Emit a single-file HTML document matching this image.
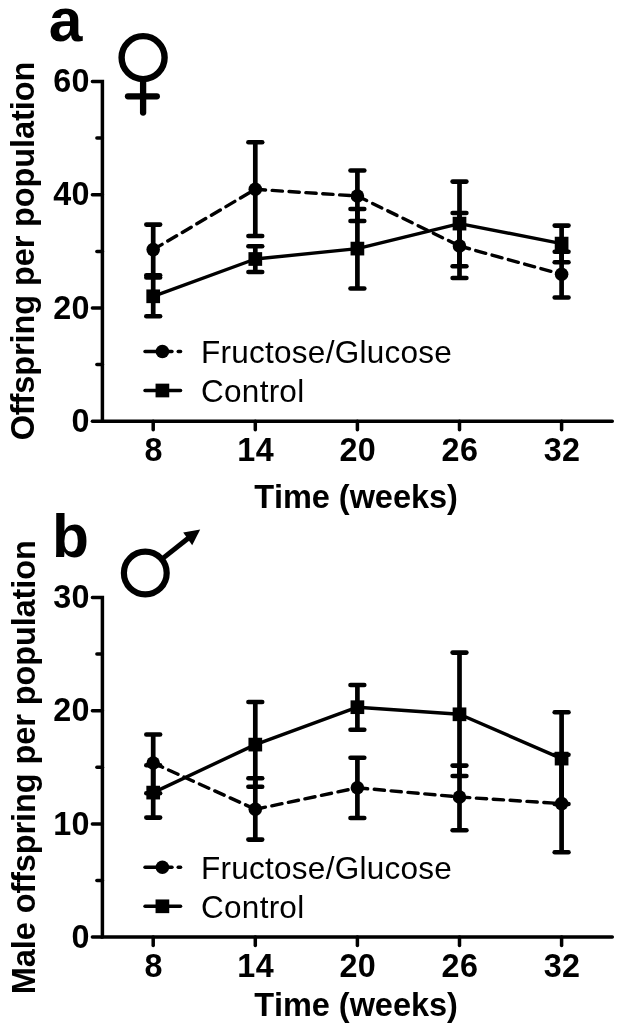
<!DOCTYPE html>
<html lang="en">
<head>
<meta charset="utf-8">
<title>Offspring per population</title>
<style>
html,body{margin:0;padding:0;background:#fff;}
body{width:624px;height:1033px;overflow:hidden;font-family:"Liberation Sans", Arial, Helvetica, sans-serif;}
svg{display:block;}
svg text{font-family:"Liberation Sans", Arial, Helvetica, sans-serif;fill:#000;font-kerning:none;}
.tk{font-size:32.3px;font-weight:bold;letter-spacing:0.4px;}
.ax{font-size:32.5px;font-weight:bold;letter-spacing:-0.05px;}
.ay{font-size:32.5px;font-weight:bold;letter-spacing:-0.1px;}
.lg{font-size:31.5px;font-weight:normal;letter-spacing:0.25px;}
.pl{font-size:60.5px;font-weight:bold;}
</style>
</head>
<body>
<svg width="624" height="1033" viewBox="0 0 624 1033">
<rect width="624" height="1033" fill="#fff"/>
<g stroke="#000" fill="none">
<path d="M92.4 81.5 H102.4 V421.25 H612.3" stroke-width="3.5" stroke-linejoin="miter" stroke-linecap="round"/>
<line x1="92.4" y1="421.25" x2="102.4" y2="421.25" stroke-width="3.5" stroke-linecap="round"/>
<line x1="92.4" y1="194.75" x2="102.4" y2="194.75" stroke-width="3.5" stroke-linecap="round"/>
<line x1="92.4" y1="308" x2="102.4" y2="308" stroke-width="3.5" stroke-linecap="round"/>
<line x1="96.9" y1="138.1" x2="102.4" y2="138.1" stroke-width="3.5" stroke-linecap="round"/>
<line x1="96.9" y1="251.4" x2="102.4" y2="251.4" stroke-width="3.5" stroke-linecap="round"/>
<line x1="96.9" y1="364.6" x2="102.4" y2="364.6" stroke-width="3.5" stroke-linecap="round"/>
<line x1="153.2" y1="421.25" x2="153.2" y2="429.75" stroke-width="3.5" stroke-linecap="round"/>
<line x1="255.3" y1="421.25" x2="255.3" y2="429.75" stroke-width="3.5" stroke-linecap="round"/>
<line x1="357.4" y1="421.25" x2="357.4" y2="429.75" stroke-width="3.5" stroke-linecap="round"/>
<line x1="459.5" y1="421.25" x2="459.5" y2="429.75" stroke-width="3.5" stroke-linecap="round"/>
<line x1="561.6" y1="421.25" x2="561.6" y2="429.75" stroke-width="3.5" stroke-linecap="round"/>
<polyline points="153.2,296.3 255.3,259.0 357.4,248.6 459.5,223.6 561.6,243.6" stroke-width="3.4" stroke-linejoin="round"/>
<line x1="153.2" y1="249.6" x2="255.3" y2="189.3" stroke-width="3.4" stroke-dasharray="10.3 6.6" stroke-linecap="round"/>
<line x1="255.3" y1="189.3" x2="357.4" y2="196.0" stroke-width="3.4" stroke-dasharray="10.3 6.6" stroke-linecap="round"/>
<line x1="357.4" y1="196.0" x2="459.5" y2="246.0" stroke-width="3.4" stroke-dasharray="10.3 6.6" stroke-linecap="round"/>
<line x1="459.5" y1="246.0" x2="561.6" y2="274.3" stroke-width="3.4" stroke-dasharray="10.3 6.6" stroke-linecap="round"/>
<line x1="153.2" y1="224.6" x2="153.2" y2="275.3" stroke-width="4.7"/><line x1="146.30" y1="224.6" x2="160.10" y2="224.6" stroke-width="4.6" stroke-linecap="round"/><line x1="146.30" y1="275.3" x2="160.10" y2="275.3" stroke-width="4.6" stroke-linecap="round"/>
<line x1="255.3" y1="142.3" x2="255.3" y2="236.0" stroke-width="4.7"/><line x1="248.40" y1="142.3" x2="262.20" y2="142.3" stroke-width="4.6" stroke-linecap="round"/><line x1="248.40" y1="236.0" x2="262.20" y2="236.0" stroke-width="4.6" stroke-linecap="round"/>
<line x1="357.4" y1="170.5" x2="357.4" y2="221.0" stroke-width="4.7"/><line x1="350.50" y1="170.5" x2="364.30" y2="170.5" stroke-width="4.6" stroke-linecap="round"/><line x1="350.50" y1="221.0" x2="364.30" y2="221.0" stroke-width="4.6" stroke-linecap="round"/>
<line x1="459.5" y1="213.0" x2="459.5" y2="278.0" stroke-width="4.7"/><line x1="452.60" y1="213.0" x2="466.40" y2="213.0" stroke-width="4.6" stroke-linecap="round"/><line x1="452.60" y1="278.0" x2="466.40" y2="278.0" stroke-width="4.6" stroke-linecap="round"/>
<line x1="561.6" y1="251.8" x2="561.6" y2="297.5" stroke-width="4.7"/><line x1="554.70" y1="251.8" x2="568.50" y2="251.8" stroke-width="4.6" stroke-linecap="round"/><line x1="554.70" y1="297.5" x2="568.50" y2="297.5" stroke-width="4.6" stroke-linecap="round"/>
<line x1="153.2" y1="277.5" x2="153.2" y2="316.3" stroke-width="4.7"/><line x1="146.30" y1="277.5" x2="160.10" y2="277.5" stroke-width="4.6" stroke-linecap="round"/><line x1="146.30" y1="316.3" x2="160.10" y2="316.3" stroke-width="4.6" stroke-linecap="round"/>
<line x1="255.3" y1="246.3" x2="255.3" y2="272.0" stroke-width="4.7"/><line x1="248.40" y1="246.3" x2="262.20" y2="246.3" stroke-width="4.6" stroke-linecap="round"/><line x1="248.40" y1="272.0" x2="262.20" y2="272.0" stroke-width="4.6" stroke-linecap="round"/>
<line x1="357.4" y1="209.0" x2="357.4" y2="288.5" stroke-width="4.7"/><line x1="350.50" y1="209.0" x2="364.30" y2="209.0" stroke-width="4.6" stroke-linecap="round"/><line x1="350.50" y1="288.5" x2="364.30" y2="288.5" stroke-width="4.6" stroke-linecap="round"/>
<line x1="459.5" y1="181.6" x2="459.5" y2="266.3" stroke-width="4.7"/><line x1="452.60" y1="181.6" x2="466.40" y2="181.6" stroke-width="4.6" stroke-linecap="round"/><line x1="452.60" y1="266.3" x2="466.40" y2="266.3" stroke-width="4.6" stroke-linecap="round"/>
<line x1="561.6" y1="225.6" x2="561.6" y2="262.3" stroke-width="4.7"/><line x1="554.70" y1="225.6" x2="568.50" y2="225.6" stroke-width="4.6" stroke-linecap="round"/><line x1="554.70" y1="262.3" x2="568.50" y2="262.3" stroke-width="4.6" stroke-linecap="round"/>
</g>
<circle cx="153.2" cy="249.6" r="6.8"/>
<circle cx="255.3" cy="189.3" r="6.8"/>
<circle cx="357.4" cy="196.0" r="6.8"/>
<circle cx="459.5" cy="246.0" r="6.8"/>
<circle cx="561.6" cy="274.3" r="6.8"/>
<rect x="146.35" y="289.45" width="13.7" height="13.7"/>
<rect x="248.45" y="252.15" width="13.7" height="13.7"/>
<rect x="350.55" y="241.75" width="13.7" height="13.7"/>
<rect x="452.65" y="216.75" width="13.7" height="13.7"/>
<rect x="554.75" y="236.75" width="13.7" height="13.7"/>
<g stroke="#000" fill="none">
<path d="M92.4 597.5 H102.4 V937.1 H612.3" stroke-width="3.5" stroke-linejoin="miter" stroke-linecap="round"/>
<line x1="92.4" y1="937.1" x2="102.4" y2="937.1" stroke-width="3.5" stroke-linecap="round"/>
<line x1="92.4" y1="710.7" x2="102.4" y2="710.7" stroke-width="3.5" stroke-linecap="round"/>
<line x1="92.4" y1="823.9" x2="102.4" y2="823.9" stroke-width="3.5" stroke-linecap="round"/>
<line x1="96.9" y1="654.1" x2="102.4" y2="654.1" stroke-width="3.5" stroke-linecap="round"/>
<line x1="96.9" y1="767.3" x2="102.4" y2="767.3" stroke-width="3.5" stroke-linecap="round"/>
<line x1="96.9" y1="880.5" x2="102.4" y2="880.5" stroke-width="3.5" stroke-linecap="round"/>
<line x1="153.2" y1="937.1" x2="153.2" y2="945.6" stroke-width="3.5" stroke-linecap="round"/>
<line x1="255.3" y1="937.1" x2="255.3" y2="945.6" stroke-width="3.5" stroke-linecap="round"/>
<line x1="357.4" y1="937.1" x2="357.4" y2="945.6" stroke-width="3.5" stroke-linecap="round"/>
<line x1="459.5" y1="937.1" x2="459.5" y2="945.6" stroke-width="3.5" stroke-linecap="round"/>
<line x1="561.6" y1="937.1" x2="561.6" y2="945.6" stroke-width="3.5" stroke-linecap="round"/>
<polyline points="153.2,792.6 255.3,744.6 357.4,707.2 459.5,714.3 561.6,758.6" stroke-width="3.4" stroke-linejoin="round"/>
<line x1="153.2" y1="763.0" x2="255.3" y2="809.3" stroke-width="3.4" stroke-dasharray="10.3 6.6" stroke-linecap="round"/>
<line x1="255.3" y1="809.3" x2="357.4" y2="787.8" stroke-width="3.4" stroke-dasharray="10.3 6.6" stroke-linecap="round"/>
<line x1="357.4" y1="787.8" x2="459.5" y2="797.0" stroke-width="3.4" stroke-dasharray="10.3 6.6" stroke-linecap="round"/>
<line x1="459.5" y1="797.0" x2="561.6" y2="803.6" stroke-width="3.4" stroke-dasharray="10.3 6.6" stroke-linecap="round"/>
<line x1="153.2" y1="734.5" x2="153.2" y2="793.2" stroke-width="4.7"/><line x1="146.30" y1="734.5" x2="160.10" y2="734.5" stroke-width="4.6" stroke-linecap="round"/><line x1="146.30" y1="793.2" x2="160.10" y2="793.2" stroke-width="4.6" stroke-linecap="round"/>
<line x1="255.3" y1="778.3" x2="255.3" y2="839.6" stroke-width="4.7"/><line x1="248.40" y1="778.3" x2="262.20" y2="778.3" stroke-width="4.6" stroke-linecap="round"/><line x1="248.40" y1="839.6" x2="262.20" y2="839.6" stroke-width="4.6" stroke-linecap="round"/>
<line x1="357.4" y1="757.8" x2="357.4" y2="818.0" stroke-width="4.7"/><line x1="350.50" y1="757.8" x2="364.30" y2="757.8" stroke-width="4.6" stroke-linecap="round"/><line x1="350.50" y1="818.0" x2="364.30" y2="818.0" stroke-width="4.6" stroke-linecap="round"/>
<line x1="459.5" y1="765.6" x2="459.5" y2="830.3" stroke-width="4.7"/><line x1="452.60" y1="765.6" x2="466.40" y2="765.6" stroke-width="4.6" stroke-linecap="round"/><line x1="452.60" y1="830.3" x2="466.40" y2="830.3" stroke-width="4.6" stroke-linecap="round"/>
<line x1="561.6" y1="754.8" x2="561.6" y2="852.3" stroke-width="4.7"/><line x1="554.70" y1="754.8" x2="568.50" y2="754.8" stroke-width="4.6" stroke-linecap="round"/><line x1="554.70" y1="852.3" x2="568.50" y2="852.3" stroke-width="4.6" stroke-linecap="round"/>
<line x1="153.2" y1="765.3" x2="153.2" y2="817.6" stroke-width="4.7"/><line x1="146.30" y1="765.3" x2="160.10" y2="765.3" stroke-width="4.6" stroke-linecap="round"/><line x1="146.30" y1="817.6" x2="160.10" y2="817.6" stroke-width="4.6" stroke-linecap="round"/>
<line x1="255.3" y1="702.0" x2="255.3" y2="786.8" stroke-width="4.7"/><line x1="248.40" y1="702.0" x2="262.20" y2="702.0" stroke-width="4.6" stroke-linecap="round"/><line x1="248.40" y1="786.8" x2="262.20" y2="786.8" stroke-width="4.6" stroke-linecap="round"/>
<line x1="357.4" y1="685.0" x2="357.4" y2="729.7" stroke-width="4.7"/><line x1="350.50" y1="685.0" x2="364.30" y2="685.0" stroke-width="4.6" stroke-linecap="round"/><line x1="350.50" y1="729.7" x2="364.30" y2="729.7" stroke-width="4.6" stroke-linecap="round"/>
<line x1="459.5" y1="652.6" x2="459.5" y2="776.0" stroke-width="4.7"/><line x1="452.60" y1="652.6" x2="466.40" y2="652.6" stroke-width="4.6" stroke-linecap="round"/><line x1="452.60" y1="776.0" x2="466.40" y2="776.0" stroke-width="4.6" stroke-linecap="round"/>
<line x1="561.6" y1="712.3" x2="561.6" y2="804.0" stroke-width="4.7"/><line x1="554.70" y1="712.3" x2="568.50" y2="712.3" stroke-width="4.6" stroke-linecap="round"/><line x1="554.70" y1="804.0" x2="568.50" y2="804.0" stroke-width="4.6" stroke-linecap="round"/>
</g>
<circle cx="153.2" cy="763.0" r="6.8"/>
<circle cx="255.3" cy="809.3" r="6.8"/>
<circle cx="357.4" cy="787.8" r="6.8"/>
<circle cx="459.5" cy="797.0" r="6.8"/>
<circle cx="561.6" cy="803.6" r="6.8"/>
<rect x="146.35" y="785.75" width="13.7" height="13.7"/>
<rect x="248.45" y="737.75" width="13.7" height="13.7"/>
<rect x="350.55" y="700.35" width="13.7" height="13.7"/>
<rect x="452.65" y="707.45" width="13.7" height="13.7"/>
<rect x="554.75" y="751.75" width="13.7" height="13.7"/>
<g stroke="#000" stroke-width="3.4" stroke-linecap="round"><line x1="145" y1="351.5" x2="172" y2="351.5"/><line x1="178.2" y1="351.5" x2="180.6" y2="351.5"/><line x1="145" y1="390.5" x2="180.6" y2="390.5"/></g><circle cx="162.4" cy="351.5" r="6.8"/><rect x="155.55" y="383.65" width="13.7" height="13.7"/><text x="201.1" y="363.1" class="lg">Fructose/Glucose</text><text x="201.1" y="402.4" class="lg">Control</text>
<g stroke="#000" stroke-width="3.4" stroke-linecap="round"><line x1="145" y1="867.3" x2="172" y2="867.3"/><line x1="178.2" y1="867.3" x2="180.6" y2="867.3"/><line x1="145" y1="906.3" x2="180.6" y2="906.3"/></g><circle cx="162.4" cy="867.3" r="6.8"/><rect x="155.55" y="899.45" width="13.7" height="13.7"/><text x="201.1" y="878.9" class="lg">Fructose/Glucose</text><text x="201.1" y="918.1999999999999" class="lg">Control</text>
<text x="153.6" y="460.7" class="tk" text-anchor="middle">8</text>
<text x="153.6" y="976.9" class="tk" text-anchor="middle">8</text>
<text x="255.70000000000002" y="460.7" class="tk" text-anchor="middle">14</text>
<text x="255.70000000000002" y="976.9" class="tk" text-anchor="middle">14</text>
<text x="357.79999999999995" y="460.7" class="tk" text-anchor="middle">20</text>
<text x="357.79999999999995" y="976.9" class="tk" text-anchor="middle">20</text>
<text x="459.9" y="460.7" class="tk" text-anchor="middle">26</text>
<text x="459.9" y="976.9" class="tk" text-anchor="middle">26</text>
<text x="562.0" y="460.7" class="tk" text-anchor="middle">32</text>
<text x="562.0" y="976.9" class="tk" text-anchor="middle">32</text>
<text x="89.9" y="92.10" class="tk" text-anchor="end">60</text>
<text x="89.9" y="205.35" class="tk" text-anchor="end">40</text>
<text x="89.9" y="318.60" class="tk" text-anchor="end">20</text>
<text x="89.9" y="431.85" class="tk" text-anchor="end">0</text>
<text x="89.9" y="608.10" class="tk" text-anchor="end">30</text>
<text x="89.9" y="721.30" class="tk" text-anchor="end">20</text>
<text x="89.9" y="834.50" class="tk" text-anchor="end">10</text>
<text x="89.9" y="947.70" class="tk" text-anchor="end">0</text>
<text x="356" y="507.6" class="ax" text-anchor="middle">Time (weeks)</text>
<text x="356" y="1016.3" class="ax" text-anchor="middle">Time (weeks)</text>
<text transform="translate(33.6 251.1) rotate(-90)" class="ay" text-anchor="middle">Offspring per population</text>
<text transform="translate(34.8 767.2) rotate(-90)" class="ay" text-anchor="middle">Male offspring per population</text>
<text x="48.7" y="41.3" class="pl">a</text>
<text x="52" y="556.9" class="pl">b</text>
<g stroke="#000" fill="none" stroke-linecap="round"><circle cx="143.1" cy="57.6" r="21.5" stroke-width="6.4"/><line x1="143.1" y1="80" x2="143.1" y2="112.6" stroke-width="6.3"/><line x1="128" y1="96.3" x2="156.8" y2="96.3" stroke-width="6.3"/></g>
<g stroke="#000" fill="none"><circle cx="145.3" cy="573" r="21.4" stroke-width="6.2"/><line x1="162.5" y1="558.6" x2="188.5" y2="538" stroke-width="5"/></g><polygon points="200.2,529.5 183.2,532.6 192.2,545.2"/>
</svg>
</body>
</html>
